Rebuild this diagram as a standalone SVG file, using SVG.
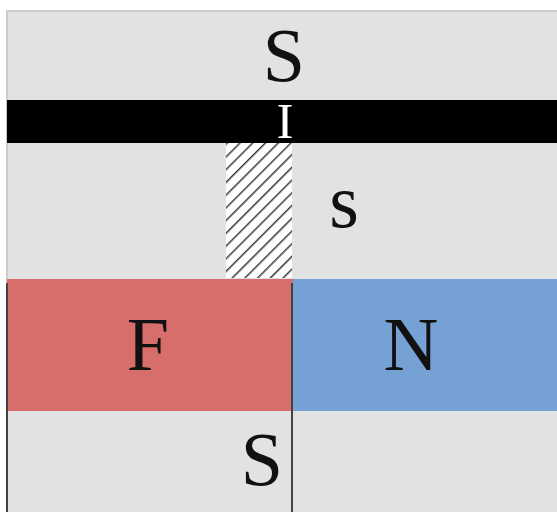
<svg xmlns="http://www.w3.org/2000/svg" width="557" height="512" viewBox="0 0 557 512">
<style>
.t{font-family:"Liberation Serif","Times New Roman",serif;fill:#111;text-anchor:middle}
</style>
<defs>
<pattern id="hatch" patternUnits="userSpaceOnUse" width="9" height="9" patternTransform="rotate(45)">
<rect width="9" height="9" fill="#fff"/>
<line x1="0" y1="0" x2="0" y2="9" stroke="#3a3a3a" stroke-width="3"/>
</pattern>
</defs>
<rect width="557" height="512" fill="#fff"/>
<g id="substrate">
<rect x="7" y="11" width="560" height="510" fill="#e2e2e2" stroke="#cbcbcb" stroke-width="2"/>
<text class="t" x="284" y="81" font-size="76">S</text>
</g>
<g id="insulator">
<rect x="7" y="100" width="560" height="43" fill="#000"/>
<text class="t" x="285" y="138" font-size="51" style="fill:#fff">I</text>
</g>
<g id="hatch-region">
<rect x="226" y="143" width="66" height="135" fill="url(#hatch)"/>
</g>
<g id="s-label">
<text class="t" x="344" y="227" font-size="76">s</text>
</g>
<g id="F">
<rect x="7" y="279" width="286" height="132" fill="#d76e6c"/>
<text class="t" x="148" y="370" font-size="76">F</text>
</g>
<g id="N">
<rect x="293" y="279" width="270" height="132" fill="#75a1d4"/>
<text class="t" x="411" y="370" font-size="76">N</text>
</g>
<g id="connectors">
<line x1="7" y1="283" x2="7" y2="512" stroke="#444" stroke-width="2"/>
<line x1="292" y1="283" x2="292" y2="512" stroke="#444" stroke-width="2"/>
</g>
<g id="bottom-S">
<text class="t" x="262" y="485" font-size="76">S</text>
</g>
</svg>
